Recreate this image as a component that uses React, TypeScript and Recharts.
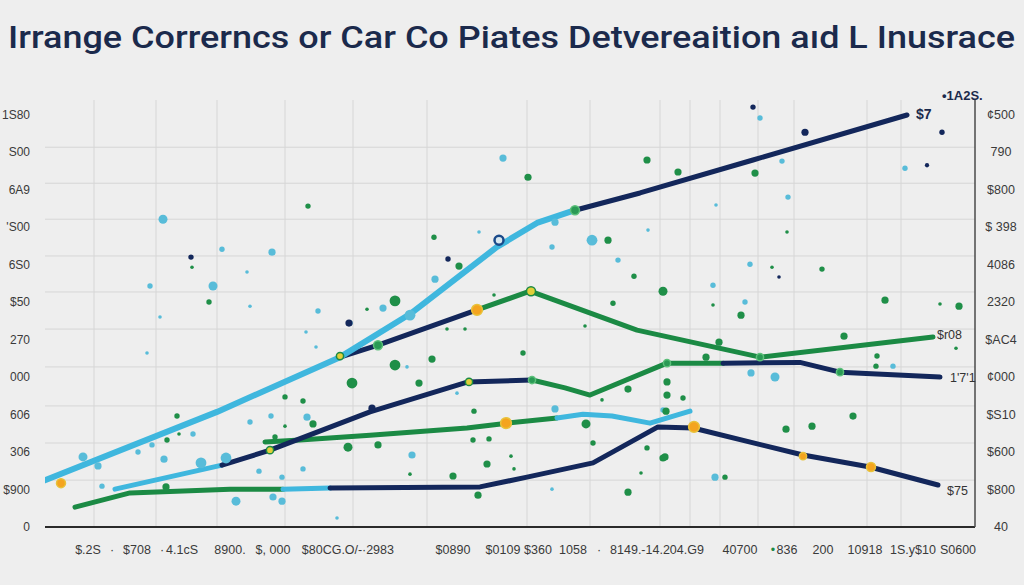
import React from "react";
import {
  ComposedChart,
  Line,
  Scatter,
  XAxis,
  YAxis,
  CartesianGrid,
} from "recharts";

// ---------- tick labels ----------
const leftTickValues = [0, 1, 2, 3, 4, 5, 6, 7, 8, 9, 10, 11];
const leftTickLabels = ["0", "$900", "306", "606", "000", "270", "$50", "6S0", "'S00", "6A9", "S00", "1S80"];
const rightTickLabels = ["40", "$800", "$600", "$S10", "¢000", "$AC4", "2320", "4086", "$ 398", "$800", "790", "¢500"];

const bottomTickValues = [4.3, 6.7, 9.2, 11.7, 13.7, 18.5, 22.8, 28.7, 33.3, 40.8, 45.8, 49.3, 52.8, 55.4, 61.2, 69.5, 72.8, 74.2, 77.8, 82.0, 86.8, 91.3];
const bottomTickLabels = ["$.2S", "·", "$708", "·", "4.1cS", "8900.", "$, 000", "$80CG.O/-", "·2983", "$0890", "$0109", "$360", "1058", "·", "8149.-14.204.G9", "40700", "•", "836", "200", "10918", "1S.y$10", "S0600"];

const gridYValues = [1.25, 2.24, 3.23, 4.27, 5.28, 6.27, 7.23, 8.21, 9.17, 10.13];
const gridXValues = [4.9, 11.1, 17.2, 24.0, 30.8, 38.2, 48.2, 54.5, 61.5, 64.5, 67.5, 71.3, 74.9, 82.2, 85.6];

// ---------- line series ----------
const lineALight = [
  { x: 0, y: 1.25 }, { x: 17.2, y: 3.07 }, { x: 29.5, y: 4.53 }, { x: 36.5, y: 5.68 },
  { x: 45.2, y: 7.47 }, { x: 49.2, y: 8.11 }, { x: 53.0, y: 8.45 },
];
const lineANavy = [
  { x: 53.0, y: 8.45 }, { x: 59.5, y: 8.91 }, { x: 70.8, y: 9.79 }, { x: 86.2, y: 10.99 },
];
const lineBLight = [{ x: 7.0, y: 1.01 }, { x: 17.7, y: 1.65 }];
const lineBNavy = [
  { x: 17.7, y: 1.65 }, { x: 22.5, y: 2.05 }, { x: 32.5, y: 3.07 }, { x: 42.3, y: 3.87 }, { x: 48.7, y: 3.92 },
];
const lineBGreen = [
  { x: 48.7, y: 3.92 }, { x: 52.0, y: 3.71 }, { x: 54.5, y: 3.52 }, { x: 62.2, y: 4.37 }, { x: 67.8, y: 4.37 },
];
const lineBNavy2 = [
  { x: 67.8, y: 4.37 }, { x: 75.5, y: 4.39 }, { x: 79.5, y: 4.13 }, { x: 89.5, y: 4.0 },
];
const lineCNavy = [{ x: 29.5, y: 4.53 }, { x: 33.3, y: 4.85 }, { x: 43.2, y: 5.79 }];
const lineCGreen = [
  { x: 43.2, y: 5.79 }, { x: 48.5, y: 6.29 }, { x: 59.2, y: 5.25 }, { x: 71.5, y: 4.53 }, { x: 88.8, y: 5.07 },
];
const lineDGreen = [
  { x: 22.0, y: 2.27 }, { x: 25.5, y: 2.32 }, { x: 32.5, y: 2.45 }, { x: 42.2, y: 2.64 }, { x: 46.2, y: 2.77 }, { x: 51.2, y: 2.91 },
];
const lineDLight = [
  { x: 51.2, y: 2.91 }, { x: 53.8, y: 3.01 }, { x: 56.7, y: 2.96 }, { x: 60.5, y: 2.77 }, { x: 64.5, y: 3.09 },
];
const lineEGreen = [{ x: 3.0, y: 0.53 }, { x: 8.5, y: 0.91 }, { x: 18.5, y: 1.01 }, { x: 23.8, y: 1.01 }];
const lineELight = [{ x: 23.8, y: 1.01 }, { x: 28.5, y: 1.04 }];
const lineENavy = [
  { x: 28.5, y: 1.04 }, { x: 43.5, y: 1.07 }, { x: 48.2, y: 1.33 }, { x: 54.8, y: 1.71 }, { x: 61.3, y: 2.67 },
  { x: 64.8, y: 2.64 }, { x: 75.8, y: 1.92 }, { x: 82.5, y: 1.6 }, { x: 89.3, y: 1.12 },
];

// ---------- scattered points (z = weight) ----------
const greenDots = [
  { x: 14.7, y: 6.93, z: 1 }, { x: 16.4, y: 6.0, z: 1.5 }, { x: 30.7, y: 3.84, z: 3 }, { x: 24.0, y: 3.47, z: 1.5 },
  { x: 25.8, y: 3.36, z: 1.5 }, { x: 13.2, y: 2.96, z: 1.5 }, { x: 13.4, y: 2.48, z: 1 }, { x: 12.2, y: 2.32, z: 1.5 },
  { x: 26.8, y: 2.75, z: 2 }, { x: 24.0, y: 2.69, z: 1 }, { x: 23.0, y: 2.4, z: 1.5 }, { x: 30.3, y: 2.13, z: 2.5 },
  { x: 12.1, y: 1.07, z: 2 }, { x: 26.3, y: 8.56, z: 1.5 }, { x: 38.9, y: 7.73, z: 1.5 }, { x: 48.3, y: 9.33, z: 2 },
  { x: 41.4, y: 6.96, z: 2 }, { x: 44.9, y: 6.19, z: 1 }, { x: 35.0, y: 6.03, z: 3 }, { x: 32.2, y: 5.81, z: 1 },
  { x: 40.2, y: 5.28, z: 1 }, { x: 42.0, y: 5.28, z: 1 }, { x: 35.0, y: 4.32, z: 3 }, { x: 38.7, y: 4.48, z: 2 },
  { x: 37.4, y: 3.84, z: 2 }, { x: 42.9, y: 3.09, z: 1.5 }, { x: 54.1, y: 2.75, z: 2.5 }, { x: 33.3, y: 2.19, z: 2 },
  { x: 42.8, y: 2.32, z: 1.5 }, { x: 44.4, y: 2.35, z: 1.5 }, { x: 44.2, y: 1.68, z: 2 }, { x: 46.6, y: 1.89, z: 1 },
  { x: 40.8, y: 1.36, z: 2 }, { x: 36.5, y: 1.41, z: 1 }, { x: 46.9, y: 1.55, z: 1 }, { x: 43.3, y: 0.85, z: 2 },
  { x: 58.3, y: 3.68, z: 2 }, { x: 62.2, y: 3.87, z: 2 }, { x: 62.2, y: 3.52, z: 2 }, { x: 55.7, y: 3.39, z: 1 },
  { x: 54.8, y: 2.24, z: 1.5 }, { x: 60.2, y: 2.11, z: 1.5 }, { x: 62.0, y: 1.87, z: 2 }, { x: 58.3, y: 0.93, z: 2 },
  { x: 59.6, y: 1.44, z: 1 }, { x: 56.3, y: 7.65, z: 2 }, { x: 58.9, y: 6.69, z: 1.5 }, { x: 61.8, y: 6.29, z: 2.5 },
  { x: 56.8, y: 5.97, z: 1.5 }, { x: 54.0, y: 5.36, z: 1 }, { x: 47.8, y: 4.64, z: 1.5 }, { x: 60.2, y: 9.79, z: 2 },
  { x: 63.3, y: 9.47, z: 2 }, { x: 71.0, y: 9.44, z: 2 }, { x: 74.2, y: 7.87, z: 1 }, { x: 72.7, y: 6.93, z: 1 },
  { x: 77.7, y: 6.88, z: 1.5 }, { x: 66.8, y: 5.92, z: 1 }, { x: 69.6, y: 5.65, z: 2 }, { x: 84.0, y: 6.05, z: 2 },
  { x: 91.4, y: 5.89, z: 2 }, { x: 89.5, y: 5.95, z: 1 }, { x: 67.4, y: 4.93, z: 2 }, { x: 79.9, y: 5.09, z: 2 },
  { x: 91.1, y: 4.77, z: 1 }, { x: 83.2, y: 4.56, z: 1.5 }, { x: 83.1, y: 4.29, z: 1.5 }, { x: 66.1, y: 4.53, z: 2 },
  { x: 63.8, y: 3.44, z: 1.5 }, { x: 80.8, y: 2.96, z: 2 }, { x: 74.1, y: 2.61, z: 2 }, { x: 76.7, y: 2.69, z: 2 },
  { x: 62.1, y: 3.09, z: 2 }, { x: 61.8, y: 1.84, z: 2 }, { x: 68.0, y: 1.33, z: 1.5 },
];
const cyanDots = [
  { x: 20.2, y: 6.8, z: 1 }, { x: 10.5, y: 6.43, z: 1.5 }, { x: 16.8, y: 6.43, z: 2.5 }, { x: 20.5, y: 5.89, z: 1 },
  { x: 27.3, y: 5.76, z: 1.5 }, { x: 11.5, y: 5.6, z: 1 }, { x: 10.2, y: 4.64, z: 1 }, { x: 26.1, y: 5.2, z: 1 },
  { x: 27.1, y: 4.8, z: 1 }, { x: 14.8, y: 2.48, z: 1.5 }, { x: 10.7, y: 2.19, z: 1.5 }, { x: 9.3, y: 2.0, z: 1.5 },
  { x: 3.8, y: 1.87, z: 2.5 }, { x: 5.3, y: 1.63, z: 2 }, { x: 11.9, y: 1.81, z: 2 }, { x: 15.6, y: 1.71, z: 3 },
  { x: 18.1, y: 1.84, z: 3 }, { x: 20.5, y: 2.8, z: 1.5 }, { x: 22.6, y: 2.96, z: 1.5 }, { x: 26.2, y: 2.93, z: 2 },
  { x: 21.4, y: 1.49, z: 1.5 }, { x: 23.7, y: 1.33, z: 1.5 }, { x: 25.8, y: 1.55, z: 1.5 }, { x: 5.7, y: 1.09, z: 1.5 },
  { x: 19.1, y: 0.69, z: 2.5 }, { x: 22.8, y: 0.8, z: 2 }, { x: 23.7, y: 0.69, z: 2 }, { x: 29.2, y: 0.24, z: 1 },
  { x: 11.8, y: 8.21, z: 2.5 }, { x: 17.7, y: 7.41, z: 1.5 }, { x: 22.7, y: 7.33, z: 2 }, { x: 43.4, y: 7.87, z: 1 },
  { x: 45.8, y: 9.84, z: 2 }, { x: 51.0, y: 8.13, z: 2 }, { x: 54.7, y: 7.65, z: 3 }, { x: 50.7, y: 7.47, z: 1.5 },
  { x: 57.3, y: 7.12, z: 1.5 }, { x: 39.0, y: 6.61, z: 2 }, { x: 33.8, y: 5.84, z: 2 }, { x: 30.5, y: 5.44, z: 1.5 },
  { x: 36.5, y: 5.65, z: 3 }, { x: 36.2, y: 4.27, z: 1 }, { x: 41.2, y: 3.57, z: 1 }, { x: 51.0, y: 3.15, z: 2 },
  { x: 36.7, y: 1.92, z: 2 }, { x: 50.7, y: 1.01, z: 1 }, { x: 61.8, y: 3.12, z: 1.5 }, { x: 71.5, y: 10.91, z: 1.5 },
  { x: 73.7, y: 9.76, z: 1.5 }, { x: 86.0, y: 9.57, z: 1.5 }, { x: 74.3, y: 8.8, z: 1.5 }, { x: 67.1, y: 8.59, z: 1 },
  { x: 60.3, y: 7.92, z: 1 }, { x: 70.5, y: 7.01, z: 1.5 }, { x: 66.8, y: 6.45, z: 1.5 }, { x: 70.0, y: 6.0, z: 1.5 },
  { x: 84.8, y: 4.29, z: 1.5 }, { x: 73.0, y: 4.0, z: 2.5 }, { x: 70.6, y: 4.11, z: 2 }, { x: 67.0, y: 1.33, z: 2 },
];
const navyDots = [
  { x: 14.6, y: 7.2, z: 1.5 }, { x: 40.3, y: 7.15, z: 1.5 }, { x: 32.7, y: 3.17, z: 2 }, { x: 30.4, y: 5.44, z: 2 },
  { x: 70.8, y: 11.2, z: 1.5 }, { x: 76.0, y: 10.53, z: 2 }, { x: 89.7, y: 10.53, z: 1.5 }, { x: 88.2, y: 9.65, z: 1.2 },
  { x: 73.4, y: 6.67, z: 1 },
];
const orangeMarkers = [
  { x: 43.2, y: 5.79, z: 3 }, { x: 64.9, y: 2.67, z: 3 }, { x: 75.8, y: 1.89, z: 2 }, { x: 82.6, y: 1.6, z: 2.5 },
  { x: 1.6, y: 1.17, z: 2.5 }, { x: 46.1, y: 2.77, z: 3 },
];
const yellowMarkers = [
  { x: 29.5, y: 4.56, z: 2 }, { x: 42.4, y: 3.87, z: 2 }, { x: 22.5, y: 2.05, z: 2 }, { x: 48.6, y: 6.29, z: 2.5 },
];
const greenMarkers = [
  { x: 53.0, y: 8.45, z: 2.5 }, { x: 33.3, y: 4.85, z: 2.5 }, { x: 48.7, y: 3.92, z: 2 }, { x: 62.2, y: 4.37, z: 2 },
  { x: 71.5, y: 4.53, z: 2 }, { x: 79.5, y: 4.13, z: 2 },
];
const navyMarkers = [{ x: 45.4, y: 7.65, z: 2.5 }];

const NAVY = "#13275b";
const GREEN = "#1b8a44";
const LIGHT = "#3fb7de";

const dotShape = (fill: string, stroke?: string, sw = 0) => (p: any) => (
  <circle
    cx={p.cx}
    cy={p.cy}
    r={p.payload.z * 1.8}
    fill={fill}
    stroke={stroke || "none"}
    strokeWidth={sw}
  />
);

const LeftTick = (props: any) => {
  const { y, payload } = props;
  const i = leftTickValues.indexOf(payload.value);
  return (
    <text x={30} y={y} dy={4} textAnchor="end" fontSize={12} fill="#3a3a3a" fontFamily="Liberation Sans, Arial, sans-serif">
      {leftTickLabels[i]}
    </text>
  );
};
const RightTick = (props: any) => {
  const { y, payload } = props;
  const i = leftTickValues.indexOf(payload.value);
  return (
    <text x={1001} y={y} dy={4} textAnchor="middle" fontSize={12.5} fill="#3a3a3a" fontFamily="Liberation Sans, Arial, sans-serif">
      {rightTickLabels[i]}
    </text>
  );
};
const BottomTick = (props: any) => {
  const { x, payload } = props;
  const i = bottomTickValues.indexOf(payload.value);
  const label = bottomTickLabels[i];
  return (
    <text x={x} y={554} textAnchor="middle" fontSize={12.5} fill={label === "•" ? GREEN : "#3a3a3a"} fontFamily="Liberation Sans, Arial, sans-serif">
      {label}
    </text>
  );
};

const lineProps = {
  type: "linear" as const,
  dataKey: "y",
  dot: false,
  activeDot: false,
  isAnimationActive: false,
  strokeLinecap: "round" as const,
  strokeLinejoin: "round" as const,
  yAxisId: "left",
  legendType: "none" as const,
};

export default function App() {
  return (
    <div style={{ position: "absolute", left: 0, top: 0, width: 1024, height: 585, background: "#eeeeee", overflow: "hidden" }}>
      <svg width={1024} height={70} style={{ position: "absolute", left: 0, top: 0 }}>
        <text
          x={8}
          y={48}
          textLength={1007}
          lengthAdjust="spacingAndGlyphs"
          fontSize={31}
          fontWeight={500}
          fill="#1b2a4c"
          fontFamily="Roboto, 'Noto Sans', sans-serif"
        >
          Irrange  Correrncs or Car Co Piates Detvereaition aıd L Inusrace
        </text>
      </svg>
      <div style={{ position: "absolute", left: 0, top: 0 }}>
        <ComposedChart width={1024} height={585} margin={{ top: 100, right: 0, bottom: 0, left: 0 }}>
          <CartesianGrid
            yAxisId="left"
            stroke="#d6d6d6"
            strokeWidth={1}
            horizontalValues={gridYValues}
            verticalValues={gridXValues}
          />
          <XAxis
            type="number"
            dataKey="x"
            domain={[0, 93]}
            ticks={bottomTickValues}
            allowDataOverflow
            interval={0}
            tickLine={false}
            height={58}
            axisLine={{ stroke: "#2a2a2a", strokeWidth: 2 }}
            tick={<BottomTick />}
          />
          <YAxis
            yAxisId="left"
            type="number"
            domain={[0, 11.39]}
            ticks={leftTickValues}
            allowDataOverflow
            interval={0}
            width={45}
            axisLine={false}
            tickLine={false}
            tick={<LeftTick />}
          />
          <YAxis
            yAxisId="right"
            orientation="right"
            type="number"
            domain={[0, 11.39]}
            ticks={leftTickValues}
            allowDataOverflow
            interval={0}
            width={49}
            axisLine={{ stroke: "#4a4a4a", strokeWidth: 1.5 }}
            tickLine={false}
            tick={<RightTick />}
          />

          <Scatter yAxisId="left" data={cyanDots} dataKey="y" fill={LIGHT} shape={dotShape("#58bcd9")} isAnimationActive={false} fillOpacity={0.8} />
          <Scatter yAxisId="left" data={greenDots} dataKey="y" fill={GREEN} shape={dotShape("#1f8f48")} isAnimationActive={false} />
          <Scatter yAxisId="left" data={navyDots} dataKey="y" fill={NAVY} shape={dotShape(NAVY)} isAnimationActive={false} />

          <Line {...lineProps} data={lineEGreen} stroke={GREEN} strokeWidth={5} />
          <Line {...lineProps} data={lineELight} stroke={LIGHT} strokeWidth={5} />
          <Line {...lineProps} data={lineENavy} stroke={NAVY} strokeWidth={5} />
          <Line {...lineProps} data={lineDGreen} stroke={GREEN} strokeWidth={5} />
          <Line {...lineProps} data={lineDLight} stroke={LIGHT} strokeWidth={5} />
          <Line {...lineProps} data={lineBLight} stroke={LIGHT} strokeWidth={5} />
          <Line {...lineProps} data={lineBNavy} stroke={NAVY} strokeWidth={5} />
          <Line {...lineProps} data={lineBGreen} stroke={GREEN} strokeWidth={5} />
          <Line {...lineProps} data={lineBNavy2} stroke={NAVY} strokeWidth={5} />
          <Line {...lineProps} data={lineCNavy} stroke={NAVY} strokeWidth={5} />
          <Line {...lineProps} data={lineCGreen} stroke={GREEN} strokeWidth={5} />
          <Line {...lineProps} data={lineALight} stroke={LIGHT} strokeWidth={6} />
          <Line {...lineProps} data={lineANavy} stroke={NAVY} strokeWidth={5} />

          <Scatter yAxisId="left" data={greenMarkers} dataKey="y" fill={GREEN} shape={dotShape("#2a9a55", "#5cc07a", 1.5)} isAnimationActive={false} />
          <Scatter yAxisId="left" data={yellowMarkers} dataKey="y" fill="#e2d43a" shape={dotShape("#e0cf3a", GREEN, 1.5)} isAnimationActive={false} />
          <Scatter yAxisId="left" data={orangeMarkers} dataKey="y" fill="#f4a21c" shape={dotShape("#f4a41f", "#e8c23a", 1.5)} isAnimationActive={false} />
          <Scatter yAxisId="left" data={navyMarkers} dataKey="y" fill="#eeeeee" shape={dotShape("#d8e8f0", "#1a4a8a", 2.5)} isAnimationActive={false} />
        </ComposedChart>
      </div>
      <svg width={1024} height={585} style={{ position: "absolute", left: 0, top: 0, pointerEvents: "none" }}>
        <g fontFamily="Liberation Sans, Arial, sans-serif">
          <text x={942} y={100} fontSize={13} fontWeight={700} fill="#1b2a4c">•1A2S.</text>
          <text x={916} y={119} fontSize={14} fontWeight={600} fill="#1b2a4c">$7</text>
          <text x={937} y={339} fontSize={12.5} fill="#333">$r08</text>
          <text x={950} y={382} fontSize={12.5} fill="#333">1'7'1</text>
          <text x={947} y={495} fontSize={12.5} fill="#333">$75</text>
        </g>
      </svg>
    </div>
  );
}
